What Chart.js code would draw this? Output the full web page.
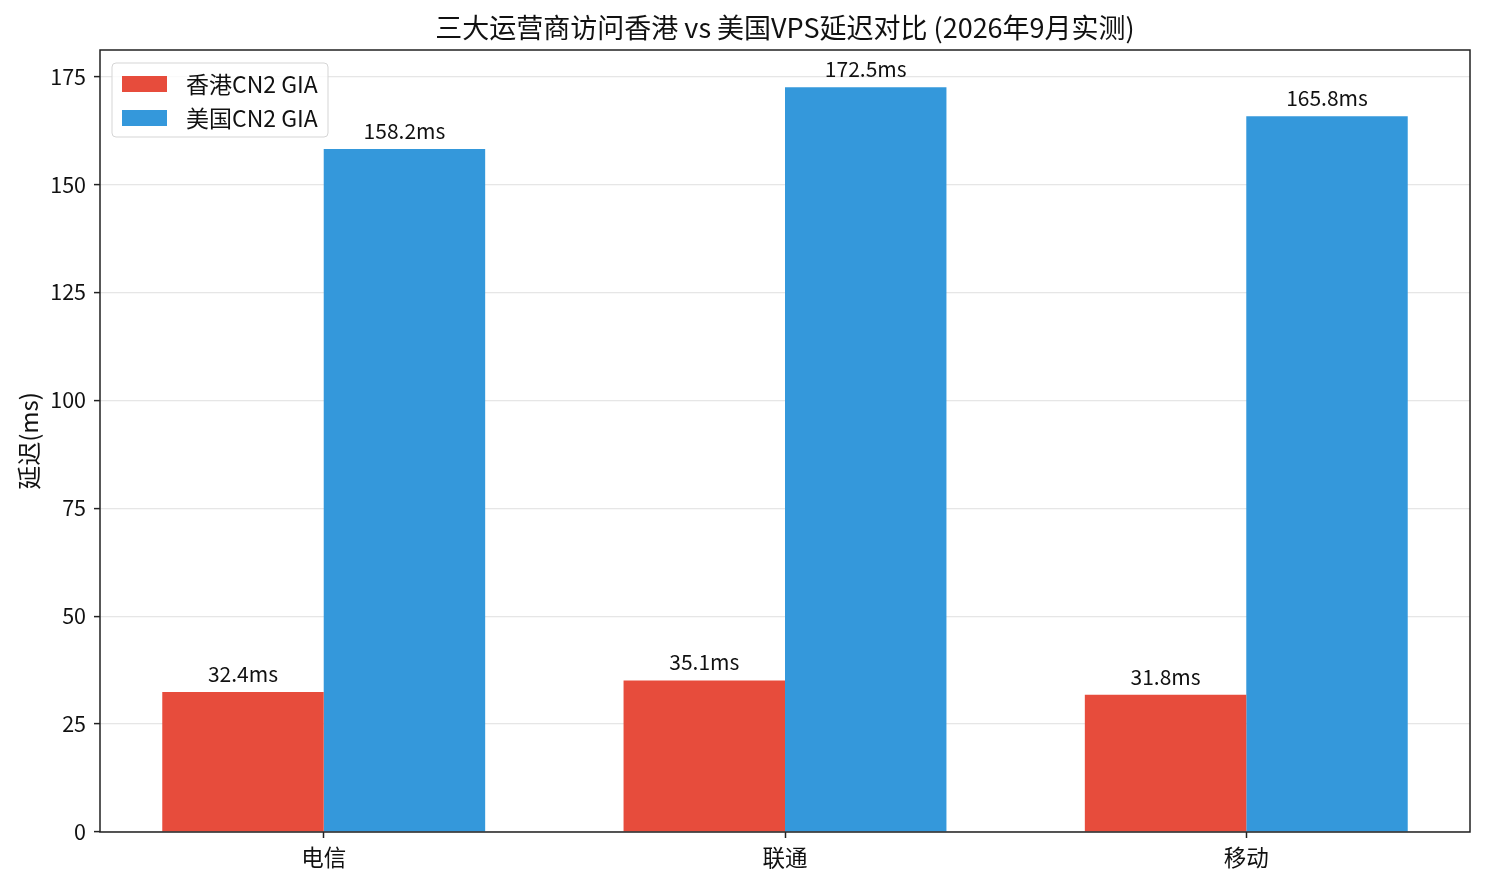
<!DOCTYPE html>
<html>
<head>
<meta charset="utf-8">
<script src="https://cdn.jsdelivr.net/npm/chart.js@4"></script>
<style>
  html, body { margin: 0; padding: 0; background: #fff; }
  #wrap { width: 1485px; height: 885px; position: relative; }
</style>
</head>
<body>
<div id="wrap"><canvas id="latencyChart"></canvas></div>
<script>
const categories = ['电信', '联通', '移动'];
const hkLatency = [32.4, 35.1, 31.8];
const usLatency = [158.2, 172.5, 165.8];
const seriesNames = ['香港CN2 GIA', '美国CN2 GIA'];
const yTicks = [0, 25, 50, 75, 100, 125, 150, 175];

const FONT = '"Noto Sans CJK SC", "Noto Sans", sans-serif';

// 柱顶数值标签
const valueLabels = {
  id: 'valueLabels',
  afterDatasetsDraw(chart) {
    const ctx = chart.ctx;
    ctx.save();
    ctx.font = '21px ' + FONT;
    ctx.fillStyle = '#111';
    ctx.textAlign = 'center';
    ctx.textBaseline = 'alphabetic';
    chart.data.datasets.forEach((ds, i) => {
      chart.getDatasetMeta(i).data.forEach((bar, j) => {
        ctx.fillText(ds.data[j].y + 'ms', bar.x, bar.y - 10);
      });
    });
    ctx.restore();
  }
};

// 四周边框 + 左上角图例
const frameAndLegend = {
  id: 'frameAndLegend',
  afterDraw(chart) {
    const ctx = chart.ctx;
    const a = chart.chartArea;
    ctx.save();
    ctx.strokeStyle = '#222';
    ctx.lineWidth = 1.5;
    ctx.strokeRect(a.left, a.top, a.right - a.left, a.bottom - a.top);

    const bx = a.left + 12, by = a.top + 13, bw = 216, bh = 74;
    ctx.beginPath();
    ctx.roundRect(bx, by, bw, bh, 4);
    ctx.fillStyle = 'rgba(255,255,255,0.8)';
    ctx.fill();
    ctx.strokeStyle = '#d5d5d5';
    ctx.lineWidth = 1;
    ctx.stroke();

    ctx.font = '23px ' + FONT;
    ctx.textBaseline = 'middle';
    ctx.textAlign = 'left';
    chart.data.datasets.forEach((ds, i) => {
      const cy = by + 21 + i * 34;
      ctx.fillStyle = ds.backgroundColor;
      ctx.fillRect(bx + 10, cy - 8, 45, 16);
      ctx.fillStyle = '#111';
      ctx.fillText(ds.label, bx + 74, cy);
    });
    ctx.restore();
  }
};

const ctx = document.getElementById('latencyChart');

new Chart(ctx, {
  type: 'bar',
  data: {
    datasets: [
      {
        label: seriesNames[0],
        data: hkLatency.map((v, i) => ({ x: i, y: v })),
        backgroundColor: '#e74c3c',
        categoryPercentage: 0.7,
        barPercentage: 1.0
      },
      {
        label: seriesNames[1],
        data: usLatency.map((v, i) => ({ x: i, y: v })),
        backgroundColor: '#3498db',
        categoryPercentage: 0.7,
        barPercentage: 1.0
      }
    ]
  },
  options: {
    responsive: true,
    maintainAspectRatio: false,
    animation: false,
    layout: { padding: { top: 0, left: 0, right: 15, bottom: 0 } },
    plugins: {
      legend: { display: false },
      tooltip: { enabled: false },
      title: {
        display: true,
        fullSize: false,
        text: '三大运营商访问香港 vs 美国VPS延迟对比 (2026年9月实测)',
        color: '#111',
        font: { family: FONT, size: 27, weight: 'normal', lineHeight: 1.2 },
        padding: { top: 12, bottom: 5.6 }
      }
    },
    scales: {
      x: {
        type: 'linear',
        offset: false,
        min: -0.485,
        max: 2.485,
        afterBuildTicks: (axis) => {
          axis.ticks = categories.map((c, i) => ({ value: i }));
        },
        afterFit: (axis) => { axis.height = 53; },
        ticks: {
          callback: (v) => categories[v] !== undefined ? categories[v] : '',
          color: '#111',
          font: { family: FONT, size: 22.5 },
          padding: 6,
          maxRotation: 0
        },
        grid: { offset: false, drawOnChartArea: false, tickLength: 6, tickColor: '#222', tickWidth: 1.5 },
        border: { display: false }
      },
      y: {
        min: 0,
        max: 181.125,
        z: 1,
        afterBuildTicks: (axis) => {
          axis.ticks = yTicks.map(v => ({ value: v }));
        },
        afterFit: (axis) => { axis.width = 100; },
        ticks: {
          color: '#111',
          font: { family: FONT, size: 21.5 },
          padding: 8,
          includeBounds: false
        },
        grid: { color: 'rgba(200,200,200,0.45)', lineWidth: 1.2, tickLength: 6, tickColor: '#222', tickWidth: 1.5 },
        border: { display: false },
        title: {
          display: true,
          text: '延迟(ms)',
          color: '#111',
          font: { family: FONT, size: 24 },
          padding: { top: 14, bottom: 0 }
        }
      }
    }
  },
  plugins: [valueLabels, frameAndLegend]
});
</script>
</body>
</html>
